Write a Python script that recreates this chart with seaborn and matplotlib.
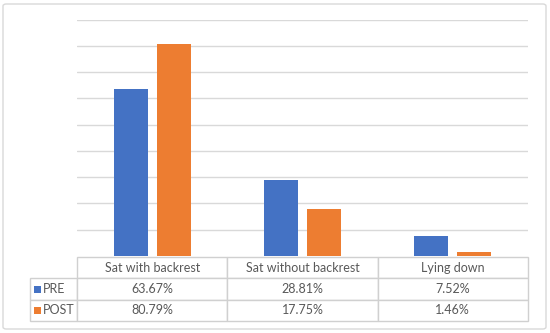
import matplotlib
matplotlib.use('Agg')
import numpy as np
import pandas as pd
import seaborn as sns
from matplotlib import pyplot as plt
from matplotlib.patches import FancyBboxPatch, Rectangle

# data
categories = ['Sat with backrest', 'Sat without backrest', 'Lying down']
series = ['PRE', 'POST']
pre_values = [63.67, 28.81, 7.52]
post_values = [80.79, 17.75, 1.46]
colors = ['#4472C4', '#ED7D31']

df = pd.DataFrame({
    'category': categories * 2,
    'series': ['PRE'] * 3 + ['POST'] * 3,
    'value': pre_values + post_values,
})

sns.set_style('white')
plt.rcParams['font.family'] = ['Lato', 'DejaVu Sans']
text_color = '#595959'
fsize = 9

W, H = 550, 333
fig = plt.figure(figsize=(5.5, 3.33), dpi=100)

# outer chart frame
frame = FancyBboxPatch((3 / W, 4 / H), 543 / W, 325 / H,
                       boxstyle='round,pad=0,rounding_size=0.006',
                       transform=fig.transFigure, facecolor='none',
                       edgecolor='#D9D9D9', linewidth=1.0, zorder=-1)
fig.patches.append(frame)

x0, x1 = 77, 528
y_top, y_base = 19.5, 256
ax = fig.add_axes([x0 / W, (H - y_base) / H, (x1 - x0) / W, (y_base - y_top) / H])
ax.set_facecolor('none')

sns.barplot(data=df, x='category', y='value', hue='series', hue_order=series,
            palette=colors, saturation=1, width=0.572, gap=0.21, linewidth=0,
            legend=False, ax=ax, zorder=3)

ax.set_ylim(0, 90)
ax.set_xlim(-0.5, 2.5)
ax.set_yticks(np.arange(10, 91, 10))
ax.yaxis.grid(True, color='#D9D9D9', linewidth=1.0, zorder=0)
ax.set_axisbelow(True)
ax.tick_params(left=False, bottom=False, labelleft=False, labelbottom=False)
for s in ax.spines.values():
    s.set_visible(False)
ax.set_xlabel('')
ax.set_ylabel('')

# data table under the plot
ax_h = y_base - y_top
ax_w = x1 - x0
t_left, t_top, t_bottom = 30, 257, 321
cell_text = [[''] + categories,
             [''] + ['%.2f%%' % v for v in pre_values],
             [''] + ['%.2f%%' % v for v in post_values]]
tbl = ax.table(cellText=cell_text, cellLoc='center',
               colWidths=[(x0 - t_left) / ax_w] + [1 / 3] * 3,
               bbox=[(t_left - x0) / ax_w, -(t_bottom - y_base) / ax_h,
                     (x1 - t_left) / ax_w, (t_bottom - t_top) / ax_h])
tbl.auto_set_font_size(False)
for (r, c), cell in tbl.get_celld().items():
    cell.set_edgecolor('#D0D0D0')
    cell.set_linewidth(1.0)
    cell.get_text().set_fontsize(fsize)
    cell.get_text().set_color(text_color)
tbl[0, 0].visible_edges = ''

# legend keys inside the table
row_h = (t_bottom - t_top) / 3
for i, (name, col) in enumerate(zip(series, colors)):
    yc = t_top + row_h * (i + 1.5)
    ax.add_patch(Rectangle(((34 - x0) / ax_w, -(yc + 3.5 - y_base) / ax_h),
                           7 / ax_w, 7 / ax_h, transform=ax.transAxes,
                           facecolor=col, edgecolor='none', clip_on=False))
    ax.text((43 - x0) / ax_w, -(yc - y_base) / ax_h, name, transform=ax.transAxes,
            ha='left', va='center', fontsize=fsize, color=text_color)

fig.savefig('out.png', dpi=100)
